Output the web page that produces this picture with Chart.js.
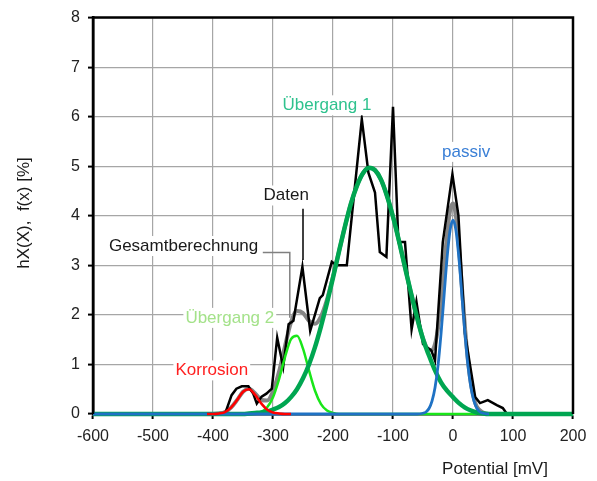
<!DOCTYPE html>
<html>
<head>
<meta charset="utf-8">
<script src="https://cdn.jsdelivr.net/npm/chart.js@4.4.1/dist/chart.umd.min.js"></script>
<style>
  html, body { margin: 0; padding: 0; background: #fff; }
  canvas { display: block; }
</style>
</head>
<body>
<canvas id="potChart" width="597" height="481"></canvas>
<script>
// measured histogram (Daten)
const datenX = [-600, -380, -369, -361, -352, -341, -333, -327, -319, -311, -302, -293, -283, -274, -266, -251, -238, -222, -217, -202, -194, -177, -152, -141, -130, -122, -111, -100, -91, -80, -69, -61, -50, -36, -30, -17, -1, 9, 20, 37, 45, 58, 73, 83, 90];
const datenY = [0, 0, 0.38, 0.51, 0.56, 0.56, 0.41, 0.21, 0.35, 0.41, 0.51, 1.54, 0.95, 1.81, 1.88, 2.97, 1.68, 2.34, 2.40, 3.07, 3.00, 3.00, 5.95, 4.87, 4.47, 3.27, 3.17, 6.20, 3.47, 3.47, 1.71, 2.27, 1.41, 1.28, 1.08, 3.47, 4.84, 4.01, 1.62, 0.34, 0.22, 0.28, 0.18, 0.12, 0];

// fitted components
const korrosionX = [-410, -400, -390, -380, -370, -360, -350, -340, -330, -320, -310, -300, -290, -280, -270];
const korrosionY = [0, 0, 0.01, 0.04, 0.13, 0.28, 0.45, 0.50, 0.39, 0.22, 0.09, 0.03, 0.01, 0, 0];

const uebergang2X = [-600, -340, -330, -320, -310, -300, -290, -280, -270, -260, -250, -240, -230, -220, -210, -200, -190, 40];
const uebergang2Y = [0, 0, 0.01, 0.04, 0.13, 0.34, 0.70, 1.15, 1.51, 1.58, 1.32, 0.88, 0.47, 0.20, 0.07, 0.02, 0, 0];

const uebergang1X = [-600, -350, -340, -330, -320, -310, -300, -290, -280, -270, -260, -250, -240, -230, -220, -210, -200, -190, -180, -170, -160, -150, -140, -130, -120, -110, -100, -90, -80, -70, -60, -50, -40, -30, -20, -10, 0, 10, 20, 30, 40, 50, 60, 200];
const uebergang1Y = [0, 0, 0.01, 0.02, 0.03, 0.05, 0.09, 0.14, 0.22, 0.34, 0.50, 0.72, 1.00, 1.35, 1.77, 2.24, 2.75, 3.28, 3.79, 4.25, 4.61, 4.86, 4.97, 4.92, 4.73, 4.40, 3.98, 3.49, 2.96, 2.44, 1.95, 1.51, 1.18, 0.88, 0.64, 0.47, 0.34, 0.22, 0.13, 0.07, 0.03, 0.01, 0, 0];

const passivX = [-600, -60, -50, -45, -40, -35, -30, -25, -20, -15, -10, -5, 0, 5, 10, 15, 20, 25, 30, 35, 40, 45, 50, 60];
const passivY = [0, 0, 0.015, 0.04, 0.11, 0.26, 0.53, 0.97, 1.61, 2.37, 3.13, 3.70, 3.91, 3.70, 3.13, 2.37, 1.61, 0.97, 0.53, 0.26, 0.11, 0.04, 0.015, 0];

// total of all components (Gesamtberechnung)
const gesamtX = [-600, -410, -400, -390, -380, -370, -360, -350, -340, -330, -320, -310, -300, -290, -280, -270, -260, -250, -240, -230, -220, -210, -200, -190, -180, -170, -160, -150, -140, -130, -120, -110, -100, -90, -80, -70, -60, -50, -40, -35, -30, -25, -20, -15, -10, -5, 0, 5, 10, 15, 20, 25, 30, 35, 40, 50, 60, 200];
const gesamtY = [0, 0, 0, 0.01, 0.04, 0.13, 0.28, 0.45, 0.51, 0.42, 0.29, 0.27, 0.46, 0.85, 1.37, 1.85, 2.08, 2.04, 1.88, 1.82, 1.97, 2.31, 2.77, 3.28, 3.79, 4.25, 4.61, 4.86, 4.97, 4.92, 4.73, 4.40, 3.98, 3.49, 2.96, 2.44, 1.95, 1.53, 1.29, 1.29, 1.41, 1.73, 2.25, 2.92, 3.60, 4.10, 4.25, 3.98, 3.35, 2.54, 1.74, 1.07, 0.60, 0.31, 0.14, 0.03, 0, 0];

const xTicks = [-600, -500, -400, -300, -200, -100, 0, 100, 200];
const yTicks = [0, 1, 2, 3, 4, 5, 6, 7, 8];

function pts(xs, ys) {
    return xs.map((x, i) => ({ x: x, y: ys[i] }));
}

const FONT = "'Liberation Sans', Arial, sans-serif";

// text labels placed in data coordinates
const labels = [
    { text: 'Übergang 1', x: -210, y: 6.23, color: '#2fc28e' },
    { text: 'passiv', x: 22, y: 5.29, color: '#3a7fd6' },
    { text: 'Daten', x: -278, y: 4.41, color: '#1a1a1a' },
    { text: 'Gesamtberechnung', x: -449, y: 3.39, color: '#1a1a1a' },
    { text: 'Übergang 2', x: -372, y: 1.94, color: '#a4e28a' },
    { text: 'Korrosion', x: -402, y: 0.88, color: '#ff2020' }
];

const annotate = {
    id: 'annotate',
    afterDatasetsDraw(chart) {
        const ctx = chart.ctx;
        const xs = chart.scales.x, ys = chart.scales.y;
        ctx.save();
        // leader lines
        ctx.lineWidth = 1.5;
        ctx.strokeStyle = '#000';
        ctx.beginPath();
        ctx.moveTo(xs.getPixelForValue(-250), ys.getPixelForValue(4.14));
        ctx.lineTo(xs.getPixelForValue(-250), ys.getPixelForValue(3.11));
        ctx.stroke();
        ctx.strokeStyle = '#808080';
        ctx.beginPath();
        ctx.moveTo(xs.getPixelForValue(-317), ys.getPixelForValue(3.26));
        ctx.lineTo(xs.getPixelForValue(-272), ys.getPixelForValue(3.26));
        ctx.lineTo(xs.getPixelForValue(-272), ys.getPixelForValue(1.94));
        ctx.stroke();

        ctx.font = '17px ' + FONT;
        ctx.textAlign = 'center';
        ctx.textBaseline = 'middle';
        labels.forEach(l => {
            const px = xs.getPixelForValue(l.x), py = ys.getPixelForValue(l.y);
            const w = ctx.measureText(l.text).width;
            ctx.fillStyle = '#fff';
            ctx.fillRect(px - w / 2 - 2, py - 10, w + 4, 20);
            ctx.fillStyle = l.color;
            ctx.fillText(l.text, px, py);
        });
        ctx.restore();
    },
    afterDraw(chart) {
        const ctx = chart.ctx;
        const a = chart.chartArea;
        ctx.save();
        // left, top and right frame (bottom axis stays under the curves)
        ctx.strokeStyle = '#000';
        ctx.lineWidth = 2.5;
        ctx.beginPath();
        ctx.moveTo(a.left, a.bottom);
        ctx.lineTo(a.left, a.top);
        ctx.lineTo(a.right, a.top);
        ctx.lineTo(a.right, a.bottom);
        ctx.stroke();
        // axis titles
        ctx.fillStyle = '#1a1a1a';
        ctx.font = '17px ' + FONT;
        ctx.textAlign = 'center';
        ctx.textBaseline = 'middle';
        ctx.fillText('Potential [mV]', 495, 469);
        ctx.translate(24, 213);
        ctx.rotate(-Math.PI / 2);
        ctx.fillText('hX(X),  f(x) [%]', 0, 0);
        ctx.restore();
    }
};

const ctx = document.getElementById('potChart').getContext('2d');
const potChart = new Chart(ctx, {
    type: 'line',
    data: {
        datasets: [
            { label: 'Korrosion', data: pts(korrosionX, korrosionY), borderColor: '#ff0000', borderWidth: 2.5, cubicInterpolationMode: 'monotone' },
            { label: 'passiv', data: pts(passivX, passivY), borderColor: '#1f72c4', borderWidth: 2.8, cubicInterpolationMode: 'monotone' },
            { label: 'Übergang 1', data: pts(uebergang1X, uebergang1Y), borderColor: '#00a651', borderWidth: 4.5, cubicInterpolationMode: 'monotone' },
            { label: 'Übergang 2', data: pts(uebergang2X, uebergang2Y), borderColor: '#19e619', borderWidth: 2.5, cubicInterpolationMode: 'monotone' },
            { label: 'Daten', data: pts(datenX, datenY), borderColor: '#000000', borderWidth: 2.5, tension: 0 },
            { label: 'Gesamtberechnung', data: pts(gesamtX, gesamtY), borderColor: '#858585', borderWidth: 4, cubicInterpolationMode: 'monotone' }
        ]
    },
    options: {
        responsive: false,
        animation: false,
        layout: { padding: { left: 0, right: 24, top: 13, bottom: 0 } },
        elements: { point: { radius: 0 } },
        datasets: { line: { clip: 4 } },
        plugins: {
            legend: { display: false },
            tooltip: { enabled: false }
        },
        scales: {
            x: {
                type: 'linear',
                min: -600,
                max: 200,
                afterBuildTicks: s => { s.ticks = xTicks.map(v => ({ value: v })); },
                afterFit: s => { s.height = 67; },
                ticks: { color: '#222', font: { family: FONT, size: 16 }, padding: 8, maxRotation: 0 },
                grid: { color: '#a6a6a6', lineWidth: 1.2, tickColor: '#000', tickLength: 5, tickWidth: 2 },
                border: { color: '#000', width: 2.5 }
            },
            y: {
                min: 0,
                max: 8,
                afterBuildTicks: s => { s.ticks = yTicks.map(v => ({ value: v })); },
                afterFit: s => { s.width = 93; },
                ticks: { color: '#222', font: { family: FONT, size: 16 }, padding: 8 },
                grid: { color: '#a6a6a6', lineWidth: 1.2, tickColor: '#000', tickLength: 5, tickWidth: 2 },
                border: { color: '#000', width: 2.5 }
            }
        }
    },
    plugins: [annotate]
});
</script>
</body>
</html>
